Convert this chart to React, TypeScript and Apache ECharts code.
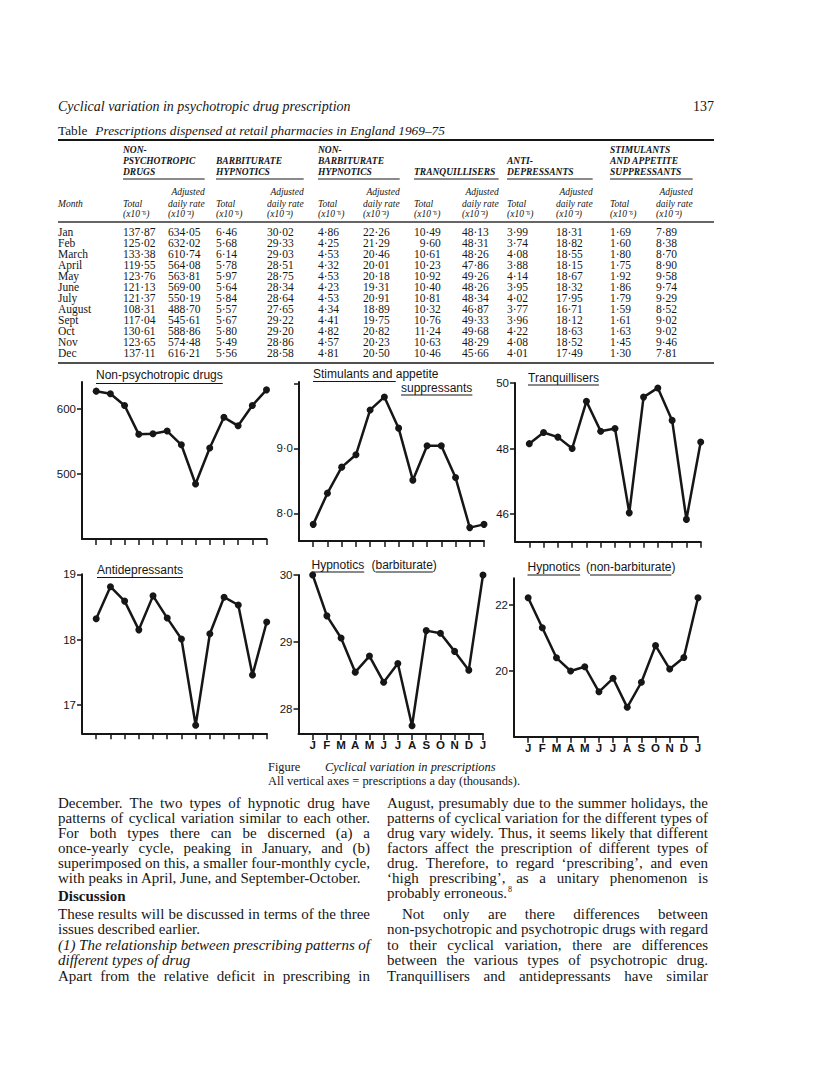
import React, { useEffect, useRef } from "react";
import * as echarts from "echarts";

// ---------------- data ----------------
const monthNames = ["Jan", "Feb", "March", "April", "May", "June", "July", "August", "Sept", "Oct", "Nov", "Dec"];
const monthLetters = ["J", "F", "M", "A", "M", "J", "J", "A", "S", "O", "N", "D", "J"];

// Table: totals (x10^-6) and adjusted daily rates (x10^-3)
const nonPsychTotal = [137.87, 125.02, 133.38, 119.55, 123.76, 121.13, 121.37, 108.31, 117.04, 130.61, 123.65, 137.11];
const nonPsychDaily = [634.05, 632.02, 610.74, 564.08, 563.81, 569.0, 550.19, 488.7, 545.61, 588.86, 574.48, 616.21];
const barbTotal = [6.46, 5.68, 6.14, 5.78, 5.97, 5.64, 5.84, 5.57, 5.67, 5.8, 5.49, 5.56];
const barbDaily = [30.02, 29.33, 29.03, 28.51, 28.75, 28.34, 28.64, 27.65, 29.22, 29.2, 28.86, 28.58];
const nonBarbTotal = [4.86, 4.25, 4.53, 4.32, 4.53, 4.23, 4.53, 4.34, 4.41, 4.82, 4.57, 4.81];
const nonBarbDaily = [22.26, 21.29, 20.46, 20.01, 20.18, 19.31, 20.91, 18.89, 19.75, 20.82, 20.23, 20.5];
const tranqTotal = [10.49, 9.6, 10.61, 10.23, 10.92, 10.4, 10.81, 10.32, 10.76, 11.24, 10.63, 10.46];
const tranqDaily = [48.13, 48.31, 48.26, 47.86, 49.26, 48.26, 48.34, 46.87, 49.33, 49.68, 48.29, 45.66];
const antiTotal = [3.99, 3.74, 4.08, 3.88, 4.14, 3.95, 4.02, 3.77, 3.96, 4.22, 4.08, 4.01];
const antiDaily = [18.31, 18.82, 18.55, 18.15, 18.67, 18.32, 17.95, 16.71, 18.12, 18.63, 18.52, 17.49];
const stimTotal = [1.69, 1.6, 1.8, 1.75, 1.92, 1.86, 1.79, 1.59, 1.61, 1.63, 1.45, 1.3];
const stimDaily = [7.89, 8.38, 8.7, 8.9, 9.58, 9.74, 9.29, 8.52, 9.02, 9.02, 9.46, 7.81];

const groupHeads = [
  ["NON-", "PSYCHOTROPIC", "DRUGS"],
  ["", "BARBITURATE", "HYPNOTICS"],
  ["NON-", "BARBITURATE", "HYPNOTICS"],
  ["", "", "TRANQUILLISERS"],
  ["", "ANTI-", "DEPRESSANTS"],
  ["STIMULANTS", "AND APPETITE", "SUPPRESSANTS"],
];

// Figure: prescriptions a day (thousands), Jan..Dec and Jan again
const nonPsychPlot = [627, 623, 605, 561, 562, 566, 545, 485, 540, 587, 574, 605, 629];
const stimPlot = [7.83, 8.31, 8.71, 8.9, 9.59, 9.79, 9.31, 8.51, 9.04, 9.04, 8.55, 7.78, 7.83];
const tranqPlot = [48.15, 48.49, 48.35, 48.0, 49.44, 48.53, 48.61, 46.04, 49.57, 49.85, 48.86, 45.84, 48.2];
const antiPlot = [18.32, 18.81, 18.59, 18.15, 18.67, 18.33, 18.01, 16.69, 18.09, 18.65, 18.53, 17.46, 18.27];
const barbPlot = [30.0, 29.39, 29.06, 28.55, 28.79, 28.4, 28.68, 27.75, 29.17, 29.13, 28.86, 28.58, 30.0];
const nonBarbPlot = [22.22, 21.31, 20.4, 20.0, 20.13, 19.37, 19.78, 18.9, 19.66, 20.77, 20.06, 20.41, 22.22];

const nonPsychTicks = [500, 600];
const stimTicks = [8, 9, 10];
const stimLabels = [8, 9];
const tranqTicks = [46, 48, 50];
const antiTicks = [17, 18, 19];
const barbTicks = [28, 29, 30];
const nonBarbTicks = [20, 22];

// ---------------- text ----------------
const leftCol = [
  { t: "December. The two types of hypnotic drug have", j: true, y: 803 },
  { t: "patterns of cyclical variation similar to each other.", j: true, y: 818 },
  { t: "For both types there can be discerned (a) a", j: true, y: 833 },
  { t: "once-yearly cycle, peaking in January, and (b)", j: true, y: 848 },
  { t: "superimposed on this, a smaller four-monthly cycle,", j: true, y: 863 },
  { t: "with peaks in April, June, and September-October.", j: false, y: 878 },
  { t: "Discussion", j: false, y: 896, bold: true },
  { t: "These results will be discussed in terms of the three", j: true, y: 914 },
  { t: "issues described earlier.", j: false, y: 929 },
  { t: "(1) The relationship between prescribing patterns of", j: true, y: 945, italic: true },
  { t: "different types of drug", j: false, y: 960, italic: true },
  { t: "Apart from the relative deficit in prescribing in", j: true, y: 976 },
];
const rightCol = [
  { t: "August, presumably due to the summer holidays, the", j: true, y: 803 },
  { t: "patterns of cyclical variation for the different types of", j: true, y: 818 },
  { t: "drug vary widely. Thus, it seems likely that different", j: true, y: 833 },
  { t: "factors affect the prescription of different types of", j: true, y: 848 },
  { t: "drug. Therefore, to regard \u2018prescribing\u2019, and even", j: true, y: 863 },
  { t: "\u2018high prescribing\u2019, as a unitary phenomenon is", j: true, y: 878 },
  { t: "probably erroneous.", j: false, y: 893, sup: "8" },
  { t: "Not only are there differences between", j: true, y: 914, indent: 15 },
  { t: "non-psychotropic and psychotropic drugs with regard", j: true, y: 929 },
  { t: "to their cyclical variation, there are differences", j: true, y: 945 },
  { t: "between the various types of psychotropic drug.", j: true, y: 960 },
  { t: "Tranquillisers and antidepressants have similar", j: true, y: 976 },
];

const INK = "#161616";
const SERIF = "'Liberation Serif', 'Times New Roman', serif";
const SANS = "'Liberation Sans', Arial, sans-serif";

const dot = (s: string) => s.replace(".", "\u00b7");

function buildOption() {
  const ctx = document.createElement("canvas").getContext("2d") as CanvasRenderingContext2D;
  const tw = (t: string, f: string) => {
    ctx.font = f;
    return ctx.measureText(t).width;
  };
  const els: any[] = [];
  const T = (x: number, y: number, text: string, font: string, align = "left", fill = INK) =>
    els.push({
      type: "text",
      x,
      y,
      silent: true,
      style: { text, font, fill, align, verticalAlign: "middle", textAlign: align, textVerticalAlign: "middle" },
    });
  const L = (x1: number, y1: number, x2: number, y2: number, w = 1, c = INK) =>
    els.push({ type: "line", silent: true, shape: { x1, y1, x2, y2 }, style: { stroke: c, lineWidth: w } });

  const R = 714;

  // ---- running head ----
  T(58, 106, "Cyclical variation in psychotropic drug prescription", `italic 14px ${SERIF}`);
  T(R, 106, "137", `14px ${SERIF}`, "right");
  const tf = `13.3px ${SERIF}`;
  T(58, 130, "Table", tf);
  T(58 + tw("Table", tf) + 8, 130, "Prescriptions dispensed at retail pharmacies in England 1969\u201375", `italic ${tf}`);
  L(58, 140, R, 140, 2);

  // ---- table ----
  const totalX = [123, 216, 318, 414, 507, 610];
  const adjX = [168, 267, 363, 462, 556, 656];
  const headFont = `italic bold 9.5px ${SERIF}`;
  const subFont = `italic 9.5px ${SERIF}`;
  const numFont = `11.5px ${SERIF}`;
  const cols = [
    [nonPsychTotal, nonPsychDaily],
    [barbTotal, barbDaily],
    [nonBarbTotal, nonBarbDaily],
    [tranqTotal, tranqDaily],
    [antiTotal, antiDaily],
    [stimTotal, stimDaily],
  ];
  const drw = tw("daily rate", subFont);
  groupHeads.forEach((lines, g) => {
    lines.forEach((s, k) => s && T(totalX[g], 150 + k * 11, s, headFont));
    L(totalX[g], 179, adjX[g] + drw, 179, 1);
    T(adjX[g] + drw, 192, "Adjusted", subFont, "right");
    T(totalX[g], 204, "Total", subFont);
    T(adjX[g], 204, "daily rate", subFont);
    T(totalX[g], 214, "(x10\u207b\u2076)", subFont);
    T(adjX[g], 214, "(x10\u207b\u00b3)", subFont);
  });
  T(58, 204, "Month", subFont);
  L(58, 222, R, 222, 1.5, "#333");
  monthNames.forEach((m, r) => T(58, 232 + r * 11, m, numFont));
  cols.forEach((pair, g) => {
    pair.forEach((arr, k) => {
      const start = k === 0 ? totalX[g] : adjX[g];
      const strs = arr.map((v) => dot(v.toFixed(2)));
      const right = start + Math.max(...strs.map((s) => tw(s, numFont)));
      strs.forEach((s, r) => T(right, 232 + r * 11, s, numFont, "right"));
    });
  });
  L(58, 363, R, 363, 1.5);

  // ---- figure panel titles ----
  const titleFont = `12px ${SANS}`;
  const underlined = (x: number, y: number, text: string, uy: number, from = 0, to = 0) => {
    T(x, y, text, titleFont);
    const w = tw(text, titleFont);
    L(x + from, uy, x + w - to, uy, 1.2);
  };
  underlined(96, 375, "Non-psychotropic drugs", 383.5);
  T(313, 374, "Stimulants and appetite", titleFont);
  L(313, 381.5, 313 + tw("Stimulants and ", titleFont), 381.5, 1.2);
  underlined(401, 388, "suppressants", 395);
  underlined(528, 377.5, "Tranquillisers", 385);
  underlined(97, 570, "Antidepressants", 577.5);
  underlined(311.5, 564.5, "Hypnotics", 572);
  underlined(371.5, 564.5, "(barbiturate)", 572, tw("(", titleFont), tw(")", titleFont));
  underlined(527.5, 566.5, "Hypnotics", 575);
  underlined(586, 566.5, "(non-barbiturate)", 575, tw("(", titleFont), tw(")", titleFont));

  // ---- caption ----
  const capFont = `12.4px ${SERIF}`;
  T(268, 767, "Figure", capFont);
  T(325, 767, "Cyclical variation in prescriptions", `italic ${capFont}`);
  T(268, 781, "All vertical axes = prescriptions a day (thousands).", capFont);

  // ---- body text (justified) ----
  const bodySize = 15;
  const setCol = (lines: any[], x0: number, x1: number) => {
    lines.forEach((ln) => {
      const font = `${ln.italic ? "italic " : ""}${ln.bold ? "bold " : ""}${bodySize}px ${SERIF}`;
      const ind = ln.indent || 0;
      const words = ln.t.split(" ");
      if (!ln.j || words.length < 2) {
        T(x0 + ind, ln.y, ln.t, font);
        if (ln.sup) T(x0 + ind + tw(ln.t, font) + 1, ln.y - 4, ln.sup, `8px ${SERIF}`);
        return;
      }
      const ws = words.map((w: string) => tw(w, font));
      const total = ws.reduce((a: number, b: number) => a + b, 0);
      const gap = (x1 - x0 - ind - total) / (words.length - 1);
      let x = x0 + ind;
      words.forEach((w: string, i: number) => {
        T(x, ln.y, w, font);
        x += ws[i] + gap;
      });
    });
  };
  setCol(leftCol, 58, 370);
  setCol(rightCol, 387, 708);

  // ---- panels ----
  const panels = [
    { data: nonPsychPlot, left: 82, top: 382, width: 184.5, height: 157, min: 401, max: 641, ticks: nonPsychTicks, labels: nonPsychTicks, fmt: (v: number) => String(v), xl: false },
    { data: stimPlot, left: 299, top: 382, width: 185, height: 159, min: 7.574, max: 10.02, ticks: stimTicks, labels: stimLabels, fmt: (v: number) => dot(v.toFixed(1)), xl: false },
    { data: tranqPlot, left: 515, top: 383, width: 185.7, height: 158.7, min: 45.16, max: 50, ticks: tranqTicks, labels: tranqTicks, fmt: (v: number) => String(v), xl: false },
    { data: antiPlot, left: 82, top: 574.3, width: 184.7, height: 159, min: 16.567, max: 19, ticks: antiTicks, labels: antiTicks, fmt: (v: number) => String(v), xl: false },
    { data: barbPlot, left: 298.5, top: 575, width: 184.5, height: 159, min: 27.627, max: 30, ticks: barbTicks, labels: barbTicks, fmt: (v: number) => String(v), xl: true },
    { data: nonBarbPlot, left: 514, top: 578.3, width: 184, height: 158.4, min: 18.01, max: 22.81, ticks: nonBarbTicks, labels: nonBarbTicks, fmt: (v: number) => String(v), xl: true },
  ];
  const idx = monthLetters.map((_, i) => i);
  const axisLineStyle = { color: INK, width: 2 };

  return {
    animation: false,
    backgroundColor: "#ffffff",
    grid: panels.map((p) => ({ left: p.left, top: p.top, width: p.width, height: p.height, containLabel: false })),
    xAxis: panels.map((p, i) => ({
      type: "value",
      gridIndex: i,
      min: -1,
      max: 12,
      axisLine: { show: true, onZero: false, lineStyle: axisLineStyle },
      axisTick: { show: true, customValues: idx, length: 6, lineStyle: { color: INK, width: 1.5 } },
      axisLabel: {
        show: p.xl,
        customValues: idx,
        formatter: (v: number) => monthLetters[Math.round(v)],
        margin: 5,
        color: INK,
        fontFamily: SANS,
        fontSize: 11.5,
        fontWeight: "bold",
      },
      splitLine: { show: false },
    })),
    yAxis: panels.map((p, i) => ({
      type: "value",
      gridIndex: i,
      min: p.min,
      max: p.max,
      axisLine: { show: true, onZero: false, lineStyle: axisLineStyle },
      axisTick: { show: true, customValues: p.ticks, length: 5, lineStyle: { color: INK, width: 1.5 } },
      axisLabel: { customValues: p.labels, formatter: p.fmt, margin: 6, color: INK, fontFamily: SANS, fontSize: 11.5 },
      splitLine: { show: false },
    })),
    series: panels.map((p, i) => ({
      type: "line",
      xAxisIndex: i,
      yAxisIndex: i,
      data: p.data.map((v, j) => [j, v]),
      symbol: "circle",
      symbolSize: 7,
      showSymbol: true,
      clip: false,
      silent: true,
      lineStyle: { color: INK, width: 2.5 },
      itemStyle: { color: INK },
    })),
    graphic: { elements: els },
  };
}

export default function App() {
  const ref = useRef<HTMLDivElement>(null);
  useEffect(() => {
    const chart = echarts.init(ref.current as HTMLDivElement, null, { renderer: "svg", width: 816, height: 1075 });
    chart.setOption(buildOption() as any);
    return () => chart.dispose();
  }, []);
  return (
    <div
      ref={ref}
      style={{ position: "absolute", left: 0, top: 0, width: 816, height: 1075, background: "#fff" }}
    />
  );
}
